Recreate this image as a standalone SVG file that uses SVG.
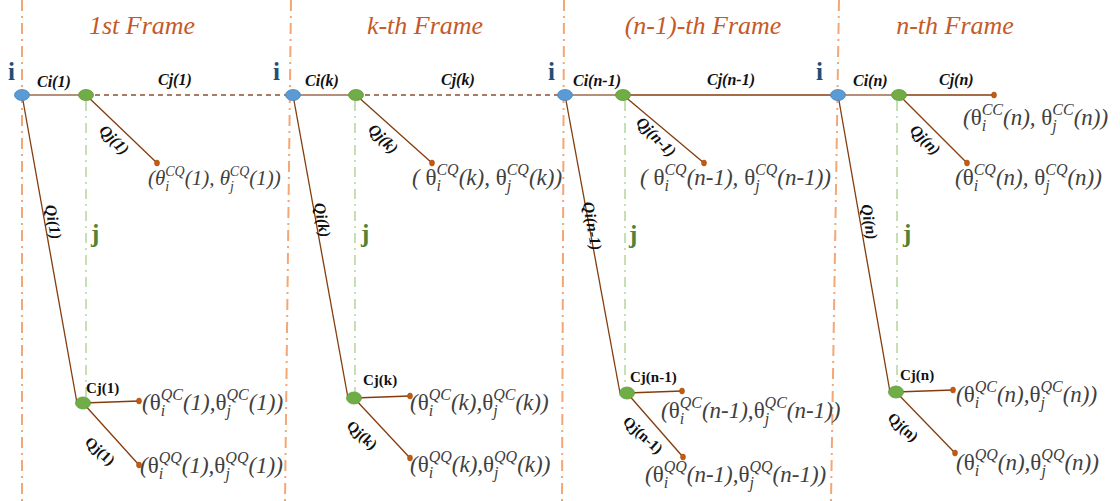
<svg xmlns="http://www.w3.org/2000/svg" width="1120" height="501" viewBox="0 0 1120 501">
<style>
.frame{stroke:#F4A674;stroke-width:2;stroke-dasharray:11 5 2 5;fill:none}
.jl{stroke:#C5E0B4;stroke-width:2;stroke-dasharray:10 5 2 5;fill:none}
.ln{stroke:#843C0C;stroke-width:1.3;fill:none}
.lt{stroke:#9C6A4E;stroke-width:1.5;fill:none}
.dash{stroke:#8A5236;stroke-width:1.3;stroke-dasharray:5 4;fill:none}
.bn{fill:#5B9BD5;stroke:#4A86C0;stroke-width:0.8}
.gn{fill:#70AD47;stroke:#5E9A38;stroke-width:0.8}
.dot{fill:#C55A11;stroke:#9A4409;stroke-width:0.5}
.title{font-family:"Liberation Serif","DejaVu Serif",serif;font-style:italic;font-size:26px;fill:#C55A28;text-anchor:middle}
.il{font-family:"Liberation Serif","DejaVu Serif",serif;font-weight:bold;font-size:25px;fill:#1F4E79}
.jt{font-family:"Liberation Serif","DejaVu Serif",serif;font-weight:bold;font-size:25px;fill:#548235}
.bi{font-family:"Liberation Serif","DejaVu Serif",serif;font-weight:bold;font-style:italic;font-size:16px;fill:#111}
.bu{font-family:"Liberation Serif","DejaVu Serif",serif;font-weight:bold;font-size:15px;fill:#111}
.rl{text-anchor:middle}
.th{font-family:"Liberation Serif","DejaVu Serif",serif;font-style:italic;font-size:21px;fill:#404040}
.tb{font-family:"Liberation Serif","DejaVu Serif",serif;font-style:italic;font-size:23px;fill:#404040}
.s{font-size:14px}
.sb{font-size:16px}
.up{font-style:normal}
</style>

<g id="frames">
<line class="frame" x1="22" y1="0" x2="22" y2="501"/>
<line class="frame" x1="291" y1="0" x2="285" y2="501"/>
<line class="frame" x1="564" y1="0" x2="562" y2="501"/>
<line class="frame" x1="839" y1="0" x2="831" y2="501"/>
</g>

<g id="titles">
<text class="title" x="142" y="34">1st Frame</text>
<text class="title" x="425" y="34">k-th  Frame</text>
<text class="title" x="703" y="34">(n-1)-th  Frame</text>
<text class="title" x="955" y="34">n-th Frame</text>
</g>

<g id="connectors">
<line class="lt" x1="22" y1="95" x2="86" y2="95"/>
<line class="dash" x1="86" y1="95" x2="291" y2="95"/>
<line class="lt" x1="293" y1="95" x2="356" y2="95"/>
<line class="dash" x1="356" y1="95" x2="565" y2="95"/>
<line class="lt" x1="565" y1="95" x2="623" y2="95"/>
<line class="ln" x1="623" y1="95" x2="838" y2="95"/>
<line class="lt" x1="838" y1="95" x2="899" y2="95"/>
<line class="ln" x1="899" y1="95" x2="994" y2="95"/>
<line class="ln" x1="86" y1="95" x2="157" y2="163"/>
<line class="ln" x1="356" y1="95" x2="432" y2="163"/>
<line class="ln" x1="623" y1="95" x2="704" y2="163"/>
<line class="ln" x1="899" y1="95" x2="967" y2="163"/>
<line class="jl" x1="86" y1="101" x2="86" y2="397"/>
<line class="jl" x1="355" y1="101" x2="355" y2="392"/>
<line class="jl" x1="625" y1="101" x2="625" y2="387"/>
<line class="jl" x1="897" y1="101" x2="897" y2="386"/>
<line class="ln" x1="22" y1="95" x2="77" y2="403"/>
<line class="ln" x1="293" y1="95" x2="348" y2="398"/>
<line class="ln" x1="565" y1="95" x2="620" y2="393"/>
<line class="ln" x1="838" y1="95" x2="890" y2="392"/>
<line class="ln" x1="83" y1="403" x2="139" y2="401"/>
<line class="ln" x1="83" y1="403" x2="139" y2="465"/>
<line class="ln" x1="354" y1="398" x2="410" y2="396"/>
<line class="ln" x1="354" y1="398" x2="410" y2="458"/>
<line class="ln" x1="627" y1="393" x2="682" y2="391"/>
<line class="ln" x1="627" y1="393" x2="683" y2="457"/>
<line class="ln" x1="896" y1="392" x2="953" y2="390"/>
<line class="ln" x1="896" y1="392" x2="955" y2="453"/>
</g>

<g id="node-i1"><ellipse class="bn" cx="22" cy="95" rx="7.5" ry="5.5"/><text class="il" x="8" y="80">i</text></g>
<g id="node-ik"><ellipse class="bn" cx="293" cy="95" rx="7.5" ry="5.5"/><text class="il" x="273" y="80">i</text></g>
<g id="node-in1"><ellipse class="bn" cx="565" cy="95" rx="7.5" ry="5.5"/><text class="il" x="548" y="80">i</text></g>
<g id="node-in"><ellipse class="bn" cx="838" cy="95" rx="7.5" ry="5.5"/><text class="il" x="816" y="80">i</text></g>

<g id="node-j1"><ellipse class="gn" cx="86" cy="95" rx="7.5" ry="5.5"/><text class="jt" x="91" y="242">j</text></g>
<g id="node-jk"><ellipse class="gn" cx="356" cy="95" rx="7.5" ry="5.5"/><text class="jt" x="361" y="242">j</text></g>
<g id="node-jn1"><ellipse class="gn" cx="623" cy="95" rx="7.5" ry="5.5"/><text class="jt" x="629" y="243">j</text></g>
<g id="node-jn"><ellipse class="gn" cx="899" cy="95" rx="7.5" ry="5.5"/><text class="jt" x="903" y="242">j</text></g>

<g id="node-jb1"><ellipse class="gn" cx="83" cy="403" rx="7.5" ry="6"/></g>
<g id="node-jbk"><ellipse class="gn" cx="354" cy="398" rx="7.5" ry="6"/></g>
<g id="node-jbn1"><ellipse class="gn" cx="627" cy="393" rx="7.5" ry="6"/></g>
<g id="node-jbn"><ellipse class="gn" cx="896" cy="392" rx="7.5" ry="6"/></g>

<g id="labels-top">
<text class="bi" x="37" y="87">Ci(1)</text>
<text class="bi" x="158" y="85">Cj(1)</text>
<text class="bi" x="305" y="86">Ci(k)</text>
<text class="bi" x="441" y="85">Cj(k)</text>
<text class="bi" x="573" y="86">Ci(n-1)</text>
<text class="bi" x="707" y="85">Cj(n-1)</text>
<text class="bi" x="853" y="86">Ci(n)</text>
<text class="bi" x="939" y="85">Cj(n)</text>
<text class="bi rl" transform="translate(114,140) rotate(45)" x="0" y="5">Qj(1)</text>
<text class="bi rl" transform="translate(383,139) rotate(45)" x="0" y="5">Qj(k)</text>
<text class="bi rl" transform="translate(656,137) rotate(45)" x="0" y="5">Qj(n-1)</text>
<text class="bi rl" transform="translate(925,140) rotate(45)" x="0" y="5">Qj(n)</text>
<text class="bi rl" transform="translate(53,222) rotate(80)" x="0" y="5">Qi(1)</text>
<text class="bi rl" transform="translate(322,220) rotate(80)" x="0" y="5">Qi(k)</text>
<text class="bi rl" transform="translate(592,226) rotate(80)" x="0" y="5">Qi(n-1)</text>
<text class="bi rl" transform="translate(869,222) rotate(80)" x="0" y="5">Qi(n)</text>
</g>

<g id="labels-bottom">
<text class="bu" x="86" y="393">Cj(1)</text>
<text class="bu" x="363" y="385">Cj(k)</text>
<text class="bu" x="630" y="382">Cj(n-1)</text>
<text class="bu" x="900" y="380">Cj(n)</text>
<text class="bu rl" transform="translate(100,451) rotate(42)" x="0" y="5">Qj(1)</text>
<text class="bu rl" transform="translate(362,435) rotate(42)" x="0" y="5">Qj(k)</text>
<text class="bu rl" transform="translate(643,435) rotate(42)" x="0" y="5">Qj(n-1)</text>
<text class="bu rl" transform="translate(903,427) rotate(42)" x="0" y="5">Qj(n)</text>
</g>

<g id="endpoints">
<ellipse class="dot" cx="157" cy="163" rx="2.5" ry="3"/>
<ellipse class="dot" cx="432" cy="163" rx="2.5" ry="3"/>
<ellipse class="dot" cx="704" cy="163" rx="2.5" ry="3"/>
<ellipse class="dot" cx="967" cy="163" rx="2.5" ry="3"/>
<ellipse class="dot" cx="994" cy="95" rx="2.5" ry="3"/>
<ellipse class="dot" cx="139" cy="401" rx="2.5" ry="3"/>
<ellipse class="dot" cx="139" cy="465" rx="2.5" ry="3"/>
<ellipse class="dot" cx="410" cy="396" rx="2.5" ry="3"/>
<ellipse class="dot" cx="410" cy="458" rx="2.5" ry="3"/>
<ellipse class="dot" cx="682" cy="391" rx="2.5" ry="3"/>
<ellipse class="dot" cx="683" cy="457" rx="2.5" ry="3"/>
<ellipse class="dot" cx="953" cy="390" rx="2.5" ry="3"/>
<ellipse class="dot" cx="955" cy="453" rx="2.5" ry="3"/>
</g>

<g id="theta-labels">
<text class="th" x="148" y="185">(θ<tspan class="s" dy="6">i</tspan><tspan class="s" dx="-4" dy="-15">CQ</tspan><tspan dy="9">(1), θ</tspan><tspan class="s" dy="6">j</tspan><tspan class="s" dx="-4" dy="-15">CQ</tspan><tspan dy="9">(1))</tspan></text>
<text class="tb" x="412" y="185">( <tspan class="up">θ</tspan><tspan class="sb" dy="6">i</tspan><tspan class="sb" dx="-4.5" dy="-16">CQ</tspan><tspan dy="10">(k), </tspan><tspan class="up">θ</tspan><tspan class="sb" dy="6">j</tspan><tspan class="sb" dx="-4.5" dy="-16">CQ</tspan><tspan dy="10">(k))</tspan></text>
<text class="tb" x="640" y="185">( <tspan class="up">θ</tspan><tspan class="sb" dy="6">i</tspan><tspan class="sb" dx="-4.5" dy="-16">CQ</tspan><tspan dy="10">(n-1), </tspan><tspan class="up">θ</tspan><tspan class="sb" dy="6">j</tspan><tspan class="sb" dx="-4.5" dy="-16">CQ</tspan><tspan dy="10">(n-1))</tspan></text>
<text class="tb" x="963" y="125">(<tspan class="up">θ</tspan><tspan class="sb" dy="6">i</tspan><tspan class="sb" dx="-4.5" dy="-16">CC</tspan><tspan dy="10">(n), </tspan><tspan class="up">θ</tspan><tspan class="sb" dy="6">j</tspan><tspan class="sb" dx="-4.5" dy="-16">CC</tspan><tspan dy="10">(n))</tspan></text>
<text class="tb" x="955" y="185">(<tspan class="up">θ</tspan><tspan class="sb" dy="6">i</tspan><tspan class="sb" dx="-4.5" dy="-16">CQ</tspan><tspan dy="10">(n), </tspan><tspan class="up">θ</tspan><tspan class="sb" dy="6">j</tspan><tspan class="sb" dx="-4.5" dy="-16">CQ</tspan><tspan dy="10">(n))</tspan></text>

<text class="tb" x="142" y="410">(<tspan class="up">θ</tspan><tspan class="sb" dy="6">i</tspan><tspan class="sb" dx="-4.5" dy="-16">QC</tspan><tspan dy="10">(1),</tspan><tspan class="up">θ</tspan><tspan class="sb" dy="6">j</tspan><tspan class="sb" dx="-4.5" dy="-16">QC</tspan><tspan dy="10">(1))</tspan></text>
<text class="tb" x="140" y="473">(<tspan class="up">θ</tspan><tspan class="sb" dy="6">i</tspan><tspan class="sb" dx="-4.5" dy="-16">QQ</tspan><tspan dy="10">(1),</tspan><tspan class="up">θ</tspan><tspan class="sb" dy="6">j</tspan><tspan class="sb" dx="-4.5" dy="-16">QQ</tspan><tspan dy="10">(1))</tspan></text>
<text class="tb" x="410" y="410">(<tspan class="up">θ</tspan><tspan class="sb" dy="6">i</tspan><tspan class="sb" dx="-4.5" dy="-16">QC</tspan><tspan dy="10">(k),</tspan><tspan class="up">θ</tspan><tspan class="sb" dy="6">j</tspan><tspan class="sb" dx="-4.5" dy="-16">QC</tspan><tspan dy="10">(k))</tspan></text>
<text class="tb" x="410" y="472">(<tspan class="up">θ</tspan><tspan class="sb" dy="6">i</tspan><tspan class="sb" dx="-4.5" dy="-16">QQ</tspan><tspan dy="10">(k),</tspan><tspan class="up">θ</tspan><tspan class="sb" dy="6">j</tspan><tspan class="sb" dx="-4.5" dy="-16">QQ</tspan><tspan dy="10">(k))</tspan></text>
<text class="tb" x="661" y="418">(<tspan class="up">θ</tspan><tspan class="sb" dy="6">i</tspan><tspan class="sb" dx="-4.5" dy="-16">QC</tspan><tspan dy="10">(n-1),</tspan><tspan class="up">θ</tspan><tspan class="sb" dy="6">j</tspan><tspan class="sb" dx="-4.5" dy="-16">QC</tspan><tspan dy="10">(n-1))</tspan></text>
<text class="tb" x="645" y="482">(<tspan class="up">θ</tspan><tspan class="sb" dy="6">i</tspan><tspan class="sb" dx="-4.5" dy="-16">QQ</tspan><tspan dy="10">(n-1),</tspan><tspan class="up">θ</tspan><tspan class="sb" dy="6">j</tspan><tspan class="sb" dx="-4.5" dy="-16">QQ</tspan><tspan dy="10">(n-1))</tspan></text>
<text class="tb" x="956" y="402">(<tspan class="up">θ</tspan><tspan class="sb" dy="6">i</tspan><tspan class="sb" dx="-4.5" dy="-16">QC</tspan><tspan dy="10">(n),</tspan><tspan class="up">θ</tspan><tspan class="sb" dy="6">j</tspan><tspan class="sb" dx="-4.5" dy="-16">QC</tspan><tspan dy="10">(n))</tspan></text>
<text class="tb" x="956" y="470">(<tspan class="up">θ</tspan><tspan class="sb" dy="6">i</tspan><tspan class="sb" dx="-4.5" dy="-16">QQ</tspan><tspan dy="10">(n),</tspan><tspan class="up">θ</tspan><tspan class="sb" dy="6">j</tspan><tspan class="sb" dx="-4.5" dy="-16">QQ</tspan><tspan dy="10">(n))</tspan></text>
</g>
</svg>
